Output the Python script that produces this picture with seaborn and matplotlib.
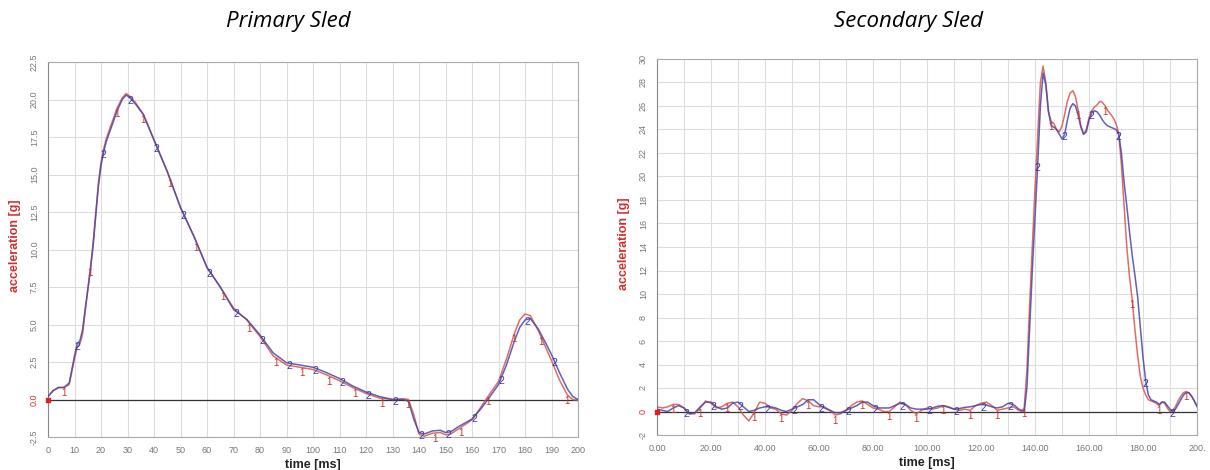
import numpy as np
import pandas as pd
import matplotlib
matplotlib.use("Agg")
import matplotlib.pyplot as plt
import seaborn as sns

# primary sled: time [ms] and acceleration [g] for channel 1 (red) and 2 (blue)
prim_time = [0, 2, 4, 6, 8, 10, 11, 12, 13, 14, 15, 16, 17, 18, 19, 20, 21, 22, 24, 26,
             28, 29.5, 31, 33, 36, 40, 45, 50, 55, 60, 65, 70, 75, 80, 85, 90, 95, 100,
             105, 110, 115, 120, 125, 130, 134, 136, 138, 140, 142, 145, 148, 150, 152,
             155, 158, 160, 163, 166, 170, 173, 176, 178, 180, 182, 185, 188, 190, 193,
             196, 198, 200]
prim_ch2 = [0.2, 0.6, 0.8, 0.8, 1.1, 2.9, 3.7, 3.9, 4.6, 6.0, 7.3, 8.6, 10.2, 12.2, 14.2,
            15.6, 16.5, 17.2, 18.2, 19.2, 20.0, 20.3, 20.1, 19.7, 19.0, 17.3, 15.2, 12.8,
            10.9, 8.8, 7.5, 6.0, 5.35, 4.3, 3.1, 2.45, 2.3, 2.15, 1.8, 1.4, 0.9, 0.5, 0.2,
            0.0, 0.0, -0.1, -1.3, -2.2, -2.3, -2.1, -2.05, -2.2, -2.15, -1.8, -1.5, -1.3,
            -0.7, 0.0, 1.0, 2.3, 3.9, 4.8, 5.3, 5.4, 4.7, 3.7, 3.0, 1.8, 0.7, 0.2, 0.0]
prim_ch1 = [0.2, 0.6, 0.8, 0.8, 1.0, 2.7, 3.5, 3.7, 4.3, 5.8, 7.3, 8.8, 10.4, 12.4, 14.4,
            15.8, 16.7, 17.4, 18.4, 19.4, 20.1, 20.4, 20.2, 19.8, 19.0, 17.3, 15.2, 12.8,
            10.9, 8.8, 7.5, 6.1, 5.3, 4.2, 2.9, 2.3, 2.15, 2.0, 1.65, 1.25, 0.8, 0.4, 0.1,
            0.0, 0.05, 0.0, -1.0, -2.3, -2.45, -2.25, -2.2, -2.35, -2.3, -1.95, -1.6, -1.35,
            -0.6, 0.2, 1.2, 2.7, 4.4, 5.3, 5.7, 5.6, 4.6, 3.4, 2.6, 1.3, 0.3, 0.0, -0.05]

# secondary sled
sec_time = list(range(0, 136, 2)) + list(range(135, 201))
sec_time = sorted(set(sec_time))
sec_ch2 = [0.2, 0.1, 0.0, 0.3, 0.5, 0.3, -0.2, -0.1, 0.4, 0.8, 0.8, 0.4, 0.2, 0.3, 0.7, 0.8,
           0.4, 0.0, 0.1, 0.3, 0.4, 0.4, 0.3, 0.1, 0.0, 0.2, 0.4, 0.6, 1.0, 1.0, 0.6, 0.3,
           0.1, -0.1, -0.1, 0.1, 0.3, 0.5, 0.8, 0.8, 0.5, 0.3, 0.3, 0.3, 0.5, 0.7, 0.6, 0.3,
           0.2, 0.2, 0.2, 0.3, 0.45, 0.5, 0.35, 0.2, 0.25, 0.35, 0.4, 0.5, 0.6, 0.55, 0.4,
           0.3, 0.4, 0.7, 0.6, 0.2,
           0.1, 0.0, 2.0, 7.0, 12.0, 16.5, 21.0, 26.0, 28.8, 27.8, 25.5, 24.3, 24.2, 24.0,
           23.6, 23.2, 23.6, 24.8, 25.8, 26.2, 26.0, 25.2, 24.2, 23.6, 23.8, 24.8, 25.4,
           25.6, 25.5, 25.2, 24.8, 24.5, 24.3, 24.2, 24.1, 24.0, 23.6, 22.0, 19.5, 17.5,
           15.3, 13.3, 11.6, 9.8, 7.2, 4.6, 2.6, 1.4, 1.0, 0.9, 0.8, 0.6, 0.8, 0.8, 0.5,
           0.2, 0.0, 0.2, 0.6, 1.0, 1.4, 1.6, 1.6, 1.3, 0.9, 0.4]
sec_ch1 = [0.4, 0.3, 0.4, 0.6, 0.6, 0.3, -0.2, -0.2, 0.3, 0.9, 0.7, 0.3, 0.4, 0.7, 0.8, 0.4,
           -0.3, -0.8, -0.1, 0.8, 0.7, 0.3, 0.2, -0.2, -0.3, 0.1, 0.7, 1.1, 0.9, 0.5, 0.4,
           0.4, 0.1, -0.3, -0.2, 0.1, 0.5, 0.8, 0.9, 0.6, 0.3, 0.2, 0.0, 0.0, 0.4, 0.8, 0.6,
           0.1, -0.2, 0.1, 0.3, 0.2, 0.3, 0.5, 0.4, 0.2, 0.1, 0.2, 0.1, 0.5, 0.7, 0.8, 0.5,
           0.1, 0.2, 0.3, 0.4, 0.1,
           0.0, 0.3, 3.5, 9.0, 14.0, 19.0, 23.5, 28.0, 29.4, 28.0, 25.5, 24.7, 24.5, 24.0,
           23.8, 24.3, 25.3, 26.4, 27.1, 27.3, 26.8, 25.6, 24.3, 23.6, 24.0, 25.0, 25.6,
           25.9, 26.1, 26.4, 26.3, 26.0, 25.6, 25.3, 25.0, 24.5, 23.7, 21.0, 17.5, 14.0,
           11.5, 9.5, 7.0, 4.8, 3.0, 2.0, 1.4, 1.0, 0.9, 0.8, 0.7, 0.5, 0.8, 0.7, 0.3, 0.0,
           0.1, 0.4, 0.9, 1.3, 1.6, 1.7, 1.6, 1.3, 0.9, 0.5]

# where the channel numbers are printed along the curves
label1_times = list(range(6, 200, 10))
label2_times = list(range(11, 200, 10))

titles = ["Primary Sled", "Secondary Sled"]
prim_xticks = list(range(0, 201, 10))
prim_yticks = [-2.5, 0.0, 2.5, 5.0, 7.5, 10.0, 12.5, 15.0, 17.5, 20.0, 22.5]
sec_xticks = list(range(0, 201, 20))
sec_xticklabels = ["0.00", "20.00", "40.00", "60.00", "80.00", "100.00", "120.00",
                   "140.00", "160.00", "180.00", "200."]
sec_yticks = list(range(-2, 31, 2))

RED = "#d9534f"
BLUE = "#4646a8"
GRID = "#dddddd"
TICKCOL = "#777777"

sns.set_style("white")
plt.rcParams['font.family'] = ['Liberation Sans', 'DejaVu Sans']

fig = plt.figure(figsize=(12.1, 4.7), dpi=100)
ax1 = fig.add_axes([48 / 1210, 1 - 437 / 470, 530 / 1210, 375 / 470])
ax2 = fig.add_axes([657 / 1210, 1 - 435 / 470, 540 / 1210, 376 / 470])

prim = pd.DataFrame({"t": prim_time, "ch1": prim_ch1, "ch2": prim_ch2})
sec = pd.DataFrame({"t": sec_time, "ch1": sec_ch1, "ch2": sec_ch2})


def draw(ax, df):
    ax.axhline(0, color="#333333", lw=0.9, zorder=1)
    sns.lineplot(data=df, x="t", y="ch1", ax=ax, color=RED, lw=1.1, alpha=0.85, zorder=3)
    sns.lineplot(data=df, x="t", y="ch2", ax=ax, color=BLUE, lw=1.1, alpha=0.85, zorder=4)
    # channel numbers along the curves
    for tt in label1_times:
        ax.annotate("1", (tt, np.interp(tt, df.t, df.ch1)), xytext=(0, -4),
                    textcoords="offset points", ha="center", va="center",
                    fontsize=7, color="#c0392b", zorder=5)
    for tt in label2_times:
        ax.annotate("2", (tt, np.interp(tt, df.t, df.ch2)), xytext=(0, -2),
                    textcoords="offset points", ha="center", va="center",
                    fontsize=7.5, color="#3a3aa0", zorder=5)
    ax.scatter([df.t[0]], [0], marker="s", s=10, color="#e02020", zorder=6, clip_on=False)
    ax.grid(True, which="both", color=GRID, lw=0.8)
    ax.set_axisbelow(True)
    for side in ["top", "right", "bottom"]:
        ax.spines[side].set_color("#aaaaaa")
    ax.spines["left"].set_color("#888888")
    ax.tick_params(axis="both", colors=TICKCOL, labelsize=6.5, length=3, width=0.6)
    ax.tick_params(axis="y", labelrotation=90)
    for lab in ax.get_yticklabels():
        lab.set_va("center")
    ax.set_xlabel("time [ms]", fontsize=9, fontweight="bold", color="#222222", labelpad=3)
    ax.set_ylabel("acceleration [g]", fontsize=9, fontweight="bold", color="#d03030")
    ax.yaxis.set_label_coords(-0.05, 0.51)


draw(ax1, prim)
ax1.set_xlim(0, 200)
ax1.set_ylim(-2.5, 22.5)
ax1.set_xticks(prim_xticks)
ax1.set_xticklabels([str(v) for v in prim_xticks])
ax1.set_yticks(prim_yticks)
ax1.set_yticklabels([f"{v:.1f}" for v in prim_yticks], rotation=90, va="center")

draw(ax2, sec)
ax2.set_xlim(0, 200)
ax2.set_ylim(-2, 30)
ax2.set_xticks(sec_xticks)
ax2.set_xticklabels(sec_xticklabels)
ax2.set_xticks(list(range(0, 201, 10)), minor=True)
ax2.tick_params(axis="x", which="minor", colors=TICKCOL, length=3, width=0.6)
ax2.set_yticks(sec_yticks)
ax2.set_yticklabels([str(v) for v in sec_yticks], rotation=90, va="center")

# zero labels in red, black marker tick at the origin
for ax in (ax1, ax2):
    for lab in ax.get_yticklabels():
        if lab.get_text() in ("0", "0.0"):
            lab.set_color("#d03030")
    first = ax.xaxis.get_major_ticks()[0]
    first.tick1line.set_color("black")
    first.tick1line.set_markeredgewidth(2)

fig.text(288 / 1210, 1 - 22 / 470, titles[0], ha="center", va="center",
         fontsize=16, style="italic", color="black", family=["Open Sans", "DejaVu Sans"])
fig.text(909 / 1210, 1 - 22 / 470, titles[1], ha="center", va="center",
         fontsize=16, style="italic", color="black", family=["Open Sans", "DejaVu Sans"])

fig.savefig("out.png", dpi=100)
